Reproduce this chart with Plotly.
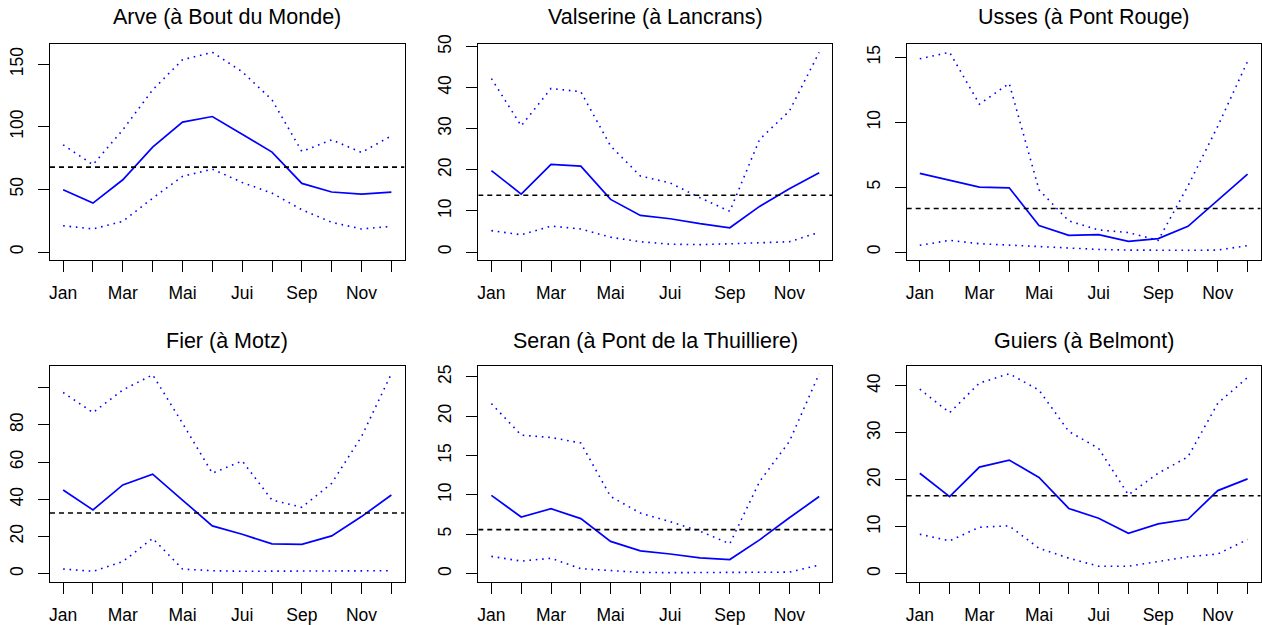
import plotly.graph_objects as go

months = list(range(1, 13))
month_labels = ["Jan", "Fév", "Mar", "Avr", "Mai", "Juin", "Jui", "Aoû", "Sep", "Oct", "Nov", "Déc"]

titles = ["Arve (à Bout du Monde)", "Valserine (à Lancrans)", "Usses (à Pont Rouge)",
          "Fier (à Motz)", "Seran (à Pont de la Thuilliere)", "Guiers (à Belmont)"]

arve_mean = [49.7, 39.1, 57.7, 83.8, 103.7, 108.2, 94.1, 79.8, 54.8, 47.9, 46.3, 47.9]
arve_min = [21.0, 18.4, 24.5, 43.0, 60.4, 66.2, 55.6, 47.0, 33.8, 23.7, 18.4, 20.5]
arve_max = [85.6, 69.7, 97.6, 129.5, 153.5, 159.5, 144.0, 121.5, 80.3, 89.6, 79.5, 92.8]
arve_overall = 67.8

valserine_mean = [19.8, 14.1, 21.3, 20.9, 12.8, 8.9, 8.1, 6.9, 5.9, 11.1, 15.4, 19.3]
valserine_min = [5.2, 4.2, 6.3, 5.6, 3.6, 2.5, 1.9, 1.8, 2.0, 2.2, 2.5, 4.8]
valserine_max = [42.2, 30.7, 39.8, 39.0, 25.8, 18.5, 16.8, 13.2, 9.9, 27.4, 34.3, 48.6]
valserine_overall = 13.8

usses_mean = [6.06, 5.5, 5.0, 4.95, 2.04, 1.29, 1.34, 0.82, 1.03, 1.98, 3.97, 6.0]
usses_min = [0.52, 0.9, 0.64, 0.52, 0.41, 0.3, 0.2, 0.15, 0.13, 0.13, 0.15, 0.49]
usses_max = [14.9, 15.4, 11.4, 13.0, 4.8, 2.4, 1.7, 1.5, 0.9, 5.1, 9.7, 14.7]
usses_overall = 3.35

fier_mean = [45.0, 34.3, 47.7, 53.5, 39.6, 25.7, 21.2, 16.0, 15.8, 20.3, 30.7, 42.3]
fier_min = [2.5, 1.3, 6.5, 19.0, 2.5, 1.6, 1.3, 1.3, 1.3, 1.3, 1.3, 1.6]
fier_max = [97.4, 86.6, 98.8, 106.9, 80.9, 54.0, 60.6, 39.6, 35.7, 48.6, 73.7, 107.5]
fier_overall = 32.6

seran_mean = [9.95, 7.2, 8.25, 7.0, 4.1, 2.9, 2.5, 2.0, 1.8, 4.3, 7.1, 9.8]
seran_min = [2.2, 1.6, 1.96, 0.64, 0.4, 0.17, 0.13, 0.13, 0.13, 0.13, 0.2, 1.1]
seran_max = [21.6, 17.6, 17.3, 16.6, 9.8, 7.7, 6.6, 5.4, 3.8, 11.7, 16.8, 25.4]
seran_overall = 5.6

guiers_mean = [21.4, 16.4, 22.7, 24.2, 20.5, 13.9, 11.8, 8.6, 10.6, 11.6, 17.7, 20.2]
guiers_min = [8.4, 7.0, 9.9, 10.2, 5.4, 3.3, 1.6, 1.6, 2.6, 3.6, 4.2, 7.3]
guiers_max = [39.3, 34.3, 40.6, 42.6, 39.1, 30.3, 26.7, 16.8, 21.4, 24.9, 36.3, 41.8]
guiers_overall = 16.6

y_tickvals = [
    [0, 50, 100, 150],
    [0, 10, 20, 30, 40, 50],
    [0, 5, 10, 15],
    [0, 20, 40, 60, 80, 100],
    [0, 5, 10, 15, 20, 25],
    [0, 10, 20, 30, 40],
]
y_ticktext = [
    ["0", "50", "100", "150"],
    ["0", "10", "20", "30", "40", "50"],
    ["0", "5", "10", "15"],
    ["0", "20", "40", "60", "80", ""],
    ["0", "5", "10", "15", "20", "25"],
    ["0", "10", "20", "30", "40"],
]

series = [
    (arve_mean, arve_min, arve_max, arve_overall),
    (valserine_mean, valserine_min, valserine_max, valserine_overall),
    (usses_mean, usses_min, usses_max, usses_overall),
    (fier_mean, fier_min, fier_max, fier_overall),
    (seran_mean, seran_min, seran_max, seran_overall),
    (guiers_mean, guiers_min, guiers_max, guiers_overall),
]

W, H = 1262, 625
# panel boxes in pixels (left, right, top, bottom)
col_px = [(50.0, 404.5), (478.3, 832.3), (906.7, 1260.7)]
row_px = [(44.3, 260.0), (365.7, 581.7)]
title_y_px = [17.0, 341.0]

BLUE = "#0000FF"
FONT = "Liberation Sans, Arial, Helvetica, sans-serif"

fig = go.Figure()
layout = dict(
    width=W, height=H, margin=dict(l=0, r=0, t=0, b=0, pad=0, autoexpand=False),
    paper_bgcolor="white", plot_bgcolor="white", showlegend=False,
    font=dict(family=FONT, size=17, color="black"),
    annotations=[],
)

x_tickvals = months
x_ticktext = [lab if i % 2 == 0 else "" for i, lab in enumerate(month_labels)]

for k, (mean, mn, mx, overall) in enumerate(series):
    r, c = divmod(k, 3)
    n = k + 1
    xa = "x" if n == 1 else f"x{n}"
    ya = "y" if n == 1 else f"y{n}"
    xkey = "xaxis" if n == 1 else f"xaxis{n}"
    ykey = "yaxis" if n == 1 else f"yaxis{n}"
    left, right = col_px[c]
    top, bottom = row_px[r]
    ymax = max(max(mx), max(mean))
    span = len(months) - 1
    common = dict(showgrid=False, zeroline=False, showline=True, mirror=True,
                  linecolor="black", linewidth=1, ticks="outside", ticklen=11,
                  tickwidth=1, tickcolor="black", automargin=False,
                  tickfont=dict(size=17.5, family=FONT, color="black"))
    layout[xkey] = dict(domain=[left / W, right / W], anchor=ya,
                        range=[1 - 0.04 * span, 12 + 0.04 * span],
                        tickmode="array", tickvals=x_tickvals, ticktext=x_ticktext,
                        ticklabelstandoff=6, **common)
    layout[ykey] = dict(domain=[1 - bottom / H, 1 - top / H], anchor=xa,
                        range=[-0.04 * ymax, 1.04 * ymax],
                        tickmode="array", tickvals=y_tickvals[k], ticktext=y_ticktext[k],
                        tickangle=-90, ticklabelstandoff=8, **common)
    fig.add_trace(go.Scatter(x=months, y=mx, xaxis=xa, yaxis=ya, mode="lines",
                             line=dict(color=BLUE, width=1.6, dash="1.6px,4.8px")))
    fig.add_trace(go.Scatter(x=months, y=mn, xaxis=xa, yaxis=ya, mode="lines",
                             line=dict(color=BLUE, width=1.6, dash="1.6px,4.8px")))
    fig.add_trace(go.Scatter(x=months, y=mean, xaxis=xa, yaxis=ya, mode="lines",
                             line=dict(color=BLUE, width=1.7)))
    fig.add_trace(go.Scatter(x=[1 - 0.04 * span, 12 + 0.04 * span], y=[overall, overall],
                             xaxis=xa, yaxis=ya, mode="lines",
                             line=dict(color="black", width=1.6, dash="5px,4px")))
    layout["annotations"].append(dict(
        text=titles[k], xref="paper", yref="paper",
        x=(left + right) / 2 / W, y=1 - title_y_px[r] / H,
        xanchor="center", yanchor="middle", showarrow=False,
        font=dict(size=21.5, family=FONT, color="black")))

fig.update_layout(**layout)
fig.write_html(
    "out.html",
    config={"displayModeBar": False},
    post_script="document.body.style.margin='0';document.body.style.overflow='hidden';",
)
